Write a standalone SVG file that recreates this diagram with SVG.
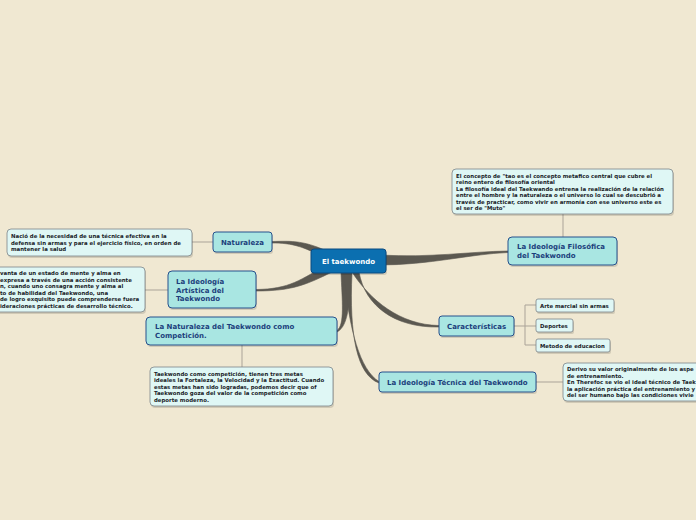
<svg xmlns="http://www.w3.org/2000/svg" width="696" height="520" viewBox="0 0 696 520">
<defs>
<style>
.bg{fill:#f0e8d2}
.main rect.b{fill:#a9e6e2;stroke:#27508c;stroke-width:1}
.main text{font-family:"DejaVu Sans",Verdana,sans-serif;font-weight:bold;font-size:7px;fill:#1c3f7c}
.leaf rect.b{fill:#dff7f5;stroke:#7c8488;stroke-width:0.8}
.leaf text{font-family:"DejaVu Sans",Verdana,sans-serif;font-weight:bold;font-size:5.4px;fill:#1a1c28}
.sh{fill:#000;opacity:0.13}
.br{fill:#5b5850;stroke:#5b5850;stroke-width:0.6}
.thin{fill:none;stroke:#aaa398;stroke-width:1}
</style>
</defs>
<rect class="bg" x="0" y="0" width="696" height="520"/>
<g id="connectors">
<path class="br" d="M333,254 C305,240 292,241 272,241.5 L272,243 C292,243 305,246 333,263 Z"/>
<path class="br" d="M330,263 C300,280 290,289 256,289.5 L256,291 C292,291 306,285 334,271 Z"/>
<path class="br" d="M341,272 C342,300 345,325 337,330.5 L337,332 C349,326 350,300 350,272 Z"/>
<path class="br" d="M380,255 C430,258 470,251.5 508,251 L508,252.5 C470,254 430,265 380,265 Z"/>
<path class="br" d="M352,272 C370,300 400,325 439,325.5 L439,327 C395,328 365,306 359,272 Z"/>
<path class="br" d="M344,273 C349,330 360,370 379,381.5 L379,383 C357,375 349,335 352,273 Z"/>
<path class="thin" d="M192,242 H213"/>
<path class="thin" d="M145,290 H168"/>
<path class="thin" d="M242,345 V367"/>
<path class="thin" d="M563,214 V237"/>
<path class="thin" d="M514,326 H525 M525,305 V345 M525,305 H536 M525,326 H536 M525,345 H536"/>
<path class="thin" d="M536,382 H563"/>
</g>
<g id="central">
<rect class="sh" x="312" y="251" width="75" height="24" rx="3"/>
<rect x="311" y="249" width="75" height="24" rx="3" fill="#0b6fb0" stroke="#0a4a80" stroke-width="1"/>
<text x="348.5" y="264" text-anchor="middle" font-family="DejaVu Sans,Verdana,sans-serif" font-weight="bold" font-size="7px" fill="#ffffff">El taekwondo</text>
</g>
<g id="naturaleza" class="main">
<rect class="sh" x="214" y="234" width="59" height="20" rx="3"/>
<rect class="b" x="213" y="232" width="59" height="20" rx="3"/>
<text x="221" y="245">Naturaleza</text>
</g>
<g id="artistica" class="main">
<rect class="sh" x="169" y="273" width="88" height="37" rx="4"/>
<rect class="b" x="168" y="271" width="88" height="37" rx="4"/>
<text x="176" y="284">La Ideología</text>
<text x="176" y="292.5">Artística del</text>
<text x="176" y="301">Taekwondo</text>
</g>
<g id="competicion" class="main">
<rect class="sh" x="147" y="319" width="191" height="28" rx="4"/>
<rect class="b" x="146" y="317" width="191" height="28" rx="4"/>
<text x="155" y="329">La Naturaleza del Taekwondo como</text>
<text x="155" y="338">Competición.</text>
</g>
<g id="filosofica" class="main">
<rect class="sh" x="509" y="239" width="109" height="28" rx="4"/>
<rect class="b" x="508" y="237" width="109" height="28" rx="4"/>
<text x="517" y="249">La Ideología Filosófica</text>
<text x="517" y="258">del Taekwondo</text>
</g>
<g id="caracteristicas" class="main">
<rect class="sh" x="440" y="318" width="75" height="20" rx="3"/>
<rect class="b" x="439" y="316" width="75" height="20" rx="3"/>
<text x="447" y="329">Características</text>
</g>
<g id="tecnica" class="main">
<rect class="sh" x="380" y="374" width="157" height="20" rx="3"/>
<rect class="b" x="379" y="372" width="157" height="20" rx="3"/>
<text x="387" y="385">La Ideología Técnica del Taekwondo</text>
</g>
<g id="leaf-filosofica" class="leaf">
<rect class="sh" x="453" y="171" width="221" height="45" rx="4"/>
<rect class="b" x="452" y="169" width="221" height="45" rx="4"/>
<text x="456" y="177.5">El concepto de "tao es el concepto metafico central que cubre el</text>
<text x="456" y="184">reino entero de filosofía oriental</text>
<text x="456" y="190.5">La filosofía ideal del Taekwando entrena la realización de la relación</text>
<text x="456" y="197">entre el hombre y la naturaleza o el universo lo cual se descubrió a</text>
<text x="456" y="203.5">través de practicar, como vivir en armonía con ese universo este es</text>
<text x="456" y="210">el ser de "Muto"</text>
</g>
<g id="leaf-naturaleza" class="leaf">
<rect class="sh" x="8" y="231" width="185" height="27" rx="4"/>
<rect class="b" x="7" y="229" width="185" height="27" rx="4"/>
<text x="11" y="238">Nació de la necesidad de una técnica efectiva en la</text>
<text x="11" y="244.5">defensa sin armas y para el ejercicio físico, en orden de</text>
<text x="11" y="251">mantener la salud</text>
</g>
<g id="leaf-artistica" class="leaf">
<rect class="sh" x="-9" y="269" width="155" height="45" rx="4"/>
<rect class="b" x="-10" y="267" width="155" height="45" rx="4"/>
<text x="0" y="275">vanta de un estado de mente y alma en</text>
<text x="0" y="281.5">expresa a través de una acción consistente</text>
<text x="0" y="288">n, cuando uno consagra mente y alma al</text>
<text x="0" y="294.5">to de habilidad del Taekwondo, una</text>
<text x="0" y="301">de logro exquisito puede comprenderse fuera</text>
<text x="0" y="307.5">ideraciones prácticas de desarrollo técnico.</text>
</g>
<g id="leaf-competicion" class="leaf">
<rect class="sh" x="151" y="369" width="183" height="39" rx="4"/>
<rect class="b" x="150" y="367" width="183" height="39" rx="4"/>
<text x="154" y="375.5">Taekwondo como competición, tienen tres metas</text>
<text x="154" y="382">ideales la Fortaleza, la Velocidad y la Exactitud. Cuando</text>
<text x="154" y="388.5">estas metas han sido logradas, podemos decir que of</text>
<text x="154" y="395">Taekwondo goza del valor de la competición como</text>
<text x="154" y="401.5">deporte moderno.</text>
</g>
<g id="leaf-arte" class="leaf">
<rect class="sh" x="537" y="301" width="78" height="13" rx="2"/>
<rect class="b" x="536" y="299" width="78" height="13" rx="2"/>
<text x="540" y="307.5">Arte marcial sin armas</text>
</g>
<g id="leaf-deportes" class="leaf">
<rect class="sh" x="537" y="321" width="37" height="13" rx="2"/>
<rect class="b" x="536" y="319" width="37" height="13" rx="2"/>
<text x="540" y="327.5">Deportes</text>
</g>
<g id="leaf-metodo" class="leaf">
<rect class="sh" x="537" y="341" width="74" height="13" rx="2"/>
<rect class="b" x="536" y="339" width="74" height="13" rx="2"/>
<text x="540" y="347.5">Metodo de educacion</text>
</g>
<g id="leaf-tecnica" class="leaf">
<rect class="sh" x="564" y="365" width="150" height="38" rx="4"/>
<rect class="b" x="563" y="363" width="150" height="38" rx="4"/>
<text x="567" y="371">Derivo su valor originalmente de los aspe</text>
<text x="567" y="377.5">de entrenamiento.</text>
<text x="567" y="384">En Therefoc se vio el ideal técnico de Taek</text>
<text x="567" y="390.5">la aplicación práctica del entrenamiento y</text>
<text x="567" y="397">del ser humano bajo las condiciones vivie</text>
</g>
</svg>
